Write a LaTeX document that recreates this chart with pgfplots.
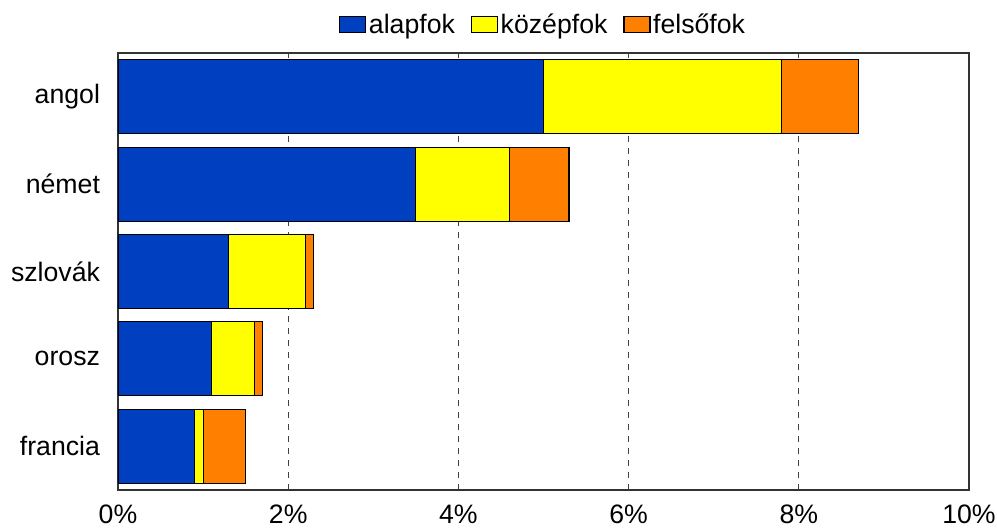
\documentclass[border=0pt]{standalone}
\usepackage{fontspec}
\setmainfont{Liberation Sans}
\usepackage{pgfplots}
\pgfplotsset{compat=1.18}
\definecolor{cblue}{RGB}{0,64,192}
\definecolor{cyellow}{RGB}{255,255,0}
\definecolor{corange}{RGB}{255,128,0}
\begin{document}
\begin{tikzpicture}
\useasboundingbox (-88.5pt,-28.5pt) rectangle (659.25pt,367.5pt);
\begin{axis}[
  at={(0pt,0pt)}, anchor=south west,
  scale only axis,
  width=638.25pt, height=327.75pt,
  xbar stacked,
  bar width=0.846,
  xmin=0, xmax=10,
  ymin=-0.5, ymax=4.5,
  xtick={0,2,4,6,8,10},
  ytick={0,1,2,3,4},
  yticklabels={francia,orosz,szlovák,német,angol},
  xticklabel={\pgfmathprintnumber{\tick}\%},
  /pgf/number format/assume math mode=true,
  major tick length=0pt,
  xmajorgrids,
  major grid style={black!75, dash pattern=on 4.5pt off 4.5pt, line width=0.6pt},
  axis line style={black!80, line width=0.8pt},
  tick label style={font=\fontsize{20}{24}\selectfont},
  xticklabel style={yshift=-8pt},
  yticklabel style={xshift=-10pt},
  legend image code/.code={\draw[#1, line width=0.8pt] (0pt,-6pt) rectangle (19.5pt,6pt);},
  legend style={draw=none, fill=none, at={(0.5,1)}, anchor=south, yshift=11pt,
    font=\fontsize{20}{24}\selectfont, inner sep=0pt,
    /tikz/every even column/.append style={column sep=10pt},
    nodes={inner xsep=2pt}},
  legend columns=3,
  every axis plot/.append style={draw=black, line width=0.8pt},
]
\addplot[fill=cblue] coordinates {(0.9,0) (1.1,1) (1.3,2) (3.5,3) (5.0,4)};
\addplot[fill=cyellow] coordinates {(0.1,0) (0.5,1) (0.9,2) (1.1,3) (2.8,4)};
\addplot[fill=corange] coordinates {(0.5,0) (0.1,1) (0.1,2) (0.7,3) (0.9,4)};
\legend{alapfok,középfok,felsőfok}
\end{axis}
\end{tikzpicture}
\end{document}
